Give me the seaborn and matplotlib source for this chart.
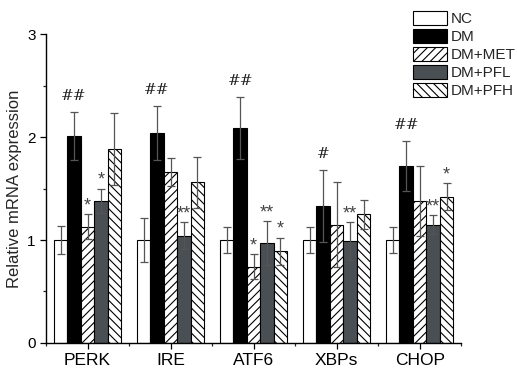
import numpy as np
import pandas as pd
import matplotlib
matplotlib.use("Agg")
import matplotlib.pyplot as plt
import matplotlib.patches as mpatches
from matplotlib.ticker import MultipleLocator, FixedLocator
import seaborn as sns

# ---- data ----
genes = ["PERK", "IRE", "ATF6", "XBPs", "CHOP"]
groups = ["NC", "DM", "DM+MET", "DM+PFL", "DM+PFH"]

nc_mean = [1.00, 1.00, 1.00, 1.00, 1.00]
dm_mean = [2.01, 2.04, 2.09, 1.33, 1.72]
met_mean = [1.13, 1.66, 0.74, 1.15, 1.38]
pfl_mean = [1.38, 1.04, 0.97, 0.99, 1.15]
pfh_mean = [1.88, 1.56, 0.89, 1.25, 1.42]

nc_err = [0.14, 0.21, 0.13, 0.13, 0.13]
dm_err = [0.23, 0.26, 0.30, 0.35, 0.24]
met_err = [0.12, 0.14, 0.12, 0.41, 0.34]
pfl_err = [0.12, 0.13, 0.21, 0.18, 0.09]
pfh_err = [0.35, 0.25, 0.13, 0.14, 0.13]

# significance marks: (gene, group, label)
marks = [
    ("PERK", "DM", "##"), ("PERK", "DM+MET", "*"), ("PERK", "DM+PFL", "*"),
    ("IRE", "DM", "##"), ("IRE", "DM+PFL", "**"),
    ("ATF6", "DM", "##"), ("ATF6", "DM+MET", "*"), ("ATF6", "DM+PFL", "**"), ("ATF6", "DM+PFH", "*"),
    ("XBPs", "DM", "#"), ("XBPs", "DM+PFL", "**"),
    ("CHOP", "DM", "##"), ("CHOP", "DM+PFL", "**"), ("CHOP", "DM+PFH", "*"),
]

means = [nc_mean, dm_mean, met_mean, pfl_mean, pfh_mean]
errs = [nc_err, dm_err, met_err, pfl_err, pfh_err]

rows = []
for g, m_list, e_list in zip(groups, means, errs):
    for gene, m, e in zip(genes, m_list, e_list):
        rows.append({"Gene": gene, "Group": g, "Mean": m, "SD": e})
df = pd.DataFrame(rows)

# ---- style ----
face = ["white", "black", "white", "#4a4f53", "white"]
hatch = ["", "", "////", "", "\\\\\\\\"]

sns.set_theme(style="ticks")
plt.rcParams["font.family"] = ["Liberation Sans", "DejaVu Sans"]
plt.rcParams["hatch.linewidth"] = 0.8
plt.rcParams["hatch.color"] = "black"

fig = plt.figure(figsize=(5.17, 3.70), dpi=100)
ax = fig.add_axes([0.089, 0.073, 0.803, 0.835])

sns.barplot(data=df, x="Gene", y="Mean", hue="Group", order=genes, hue_order=groups,
            palette=face, errorbar=None, width=0.81, gap=0, edgecolor="black",
            linewidth=0.8, legend=False, ax=ax)

bar_conts = list(ax.containers)
lookup = {}
for i, cont in enumerate(bar_conts):
    for j, bar in enumerate(cont.patches):
        bar.set_hatch(hatch[i])
        bar.set_facecolor(face[i])
        bar.set_edgecolor("black")
        x = bar.get_x() + bar.get_width() / 2
        m = means[i][j]
        e = errs[i][j]
        ax.errorbar(x, m, yerr=e, fmt="none", ecolor="#555555", elinewidth=0.9,
                    capsize=3, capthick=0.9, zorder=3)
        lookup[(genes[j], groups[i])] = (x, m + e)

for gene, grp, lab in marks:
    x, top = lookup[(gene, grp)]
    if "#" in lab:
        ax.text(x, top + 0.09, lab, ha="center", va="bottom", fontsize=11,
                color="#222222", family="DejaVu Serif")
    else:
        ax.text(x, top + 0.0, lab, ha="center", va="bottom", fontsize=13,
                color="#444444")

ax.set_xlim(-0.5, 4.5)
ax.set_ylim(0, 3)
ax.set_xlabel("")
ax.set_ylabel("Relative mRNA expression", fontsize=12, labelpad=4)
ax.yaxis.set_major_locator(MultipleLocator(1))
ax.yaxis.set_minor_locator(MultipleLocator(0.5))
ax.xaxis.set_minor_locator(FixedLocator(np.arange(-0.5, 5, 1)))
ax.tick_params(axis="both", which="major", length=4, width=0.9, labelsize=11, colors="black")
ax.tick_params(axis="x", which="major", labelsize=12.5, pad=3)
ax.tick_params(axis="both", which="minor", length=2.5, width=0.9)
sns.despine(ax=ax)
for s in ["left", "bottom"]:
    ax.spines[s].set_linewidth(1.0)
    ax.spines[s].set_color("black")

handles = [mpatches.Patch(facecolor=f, edgecolor="black", hatch=h, linewidth=0.8, label=g)
           for f, h, g in zip(face, hatch, groups)]
fig.legend(handles=handles, loc="upper left", bbox_to_anchor=(0.778, 1.0),
           frameon=False, fontsize=11, handlelength=2.2, handleheight=1.05,
           labelspacing=0.18, handletextpad=0.3, borderpad=0.2)

fig.savefig("out.png", dpi=100)
